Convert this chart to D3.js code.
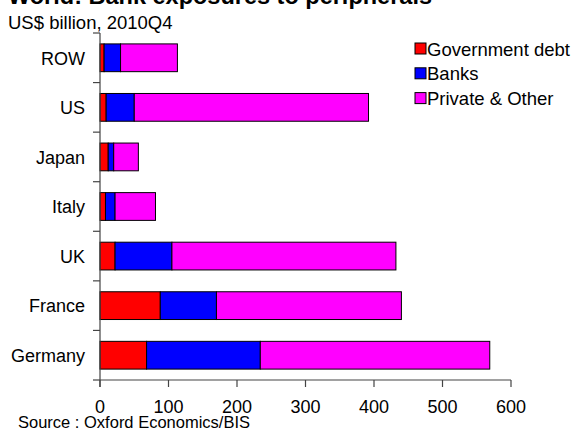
<!DOCTYPE html>
<html>
<head>
<meta charset="utf-8">
<script src="https://cdn.jsdelivr.net/npm/d3@7"></script>
<style>
    body { margin: 0; background: #fff; }
    text { font-family: "Liberation Sans", Arial, sans-serif; fill: #000; }
</style>
</head>
<body>
<svg width="579" height="430"></svg>
<script>
// Data (US$ billion, 2010Q4)
let countries = ['ROW', 'US', 'Japan', 'Italy', 'UK', 'France', 'Germany']
let government_debt = [6, 9, 12, 8, 22, 88, 68]
let banks = [24, 41, 8, 14, 83, 82, 166]
let private_other = [83, 342, 36, 59, 327, 270, 335]
let series_names = ['Government debt', 'Banks', 'Private & Other']
let series_colors = ['#ff0000', '#0000ff', '#ff00ff']
let x_ticks = [0, 100, 200, 300, 400, 500, 600]

let rows = countries.map((c, i) => ({
    country: c,
    'Government debt': government_debt[i],
    'Banks': banks[i],
    'Private & Other': private_other[i]
}))

let stack = d3.stack().keys(series_names)(rows)

let svg = d3.select('svg')

let scale = {
    x: d3.scaleLinear().domain([0, 600]).range([100, 511]),
    y: d3.scaleBand().domain(countries).range([33, 380]).paddingInner(0.44).paddingOuter(0.22)
}

// Title (cut off at top in the original)
svg.append('text')
    .attr('x', 8)
    .attr('y', 3.5)
    .style('font-size', '23.5px')
    .style('font-weight', 'bold')
    .text('World: Bank exposures to peripherals')

svg.append('text')
    .attr('x', 8)
    .attr('y', 29)
    .style('font-size', '18.5px')
    .text('US$ billion, 2010Q4')

// Bars
svg.append('g')
    .selectAll('g')
    .data(stack)
    .join('g')
    .attr('fill', (d, i) => series_colors[i])
    .selectAll('rect')
    .data(d => d)
    .join('rect')
    .attr('x', d => scale.x(d[0]))
    .attr('y', d => scale.y(d.data.country))
    .attr('width', d => scale.x(d[1]) - scale.x(d[0]))
    .attr('height', scale.y.bandwidth())
    .attr('stroke', '#000')
    .attr('stroke-width', 1)

// Y axis: ticks between categories
let step = scale.y.step()
let y_top = scale.y.range()[0]
let y_bottom = scale.y.range()[1]
let yAxis = svg.append('g').attr('stroke', '#444').attr('stroke-width', 1.2)
yAxis.append('line')
    .attr('x1', scale.x(0)).attr('x2', scale.x(0))
    .attr('y1', y_top).attr('y2', y_bottom + 7)
yAxis.selectAll('line.tick')
    .data(d3.range(countries.length + 1))
    .join('line')
    .attr('class', 'tick')
    .attr('x1', scale.x(0) - 7).attr('x2', scale.x(0))
    .attr('y1', i => y_top + i * step).attr('y2', i => y_top + i * step)

svg.append('g')
    .selectAll('text')
    .data(countries)
    .join('text')
    .attr('x', 85)
    .attr('y', d => scale.y(d) + scale.y.bandwidth() / 2)
    .attr('dy', '0.38em')
    .attr('text-anchor', 'end')
    .style('font-size', '18px')
    .text(d => d)

// X axis
let xAxis = svg.append('g').attr('stroke', '#444').attr('stroke-width', 1.2)
xAxis.append('line')
    .attr('x1', scale.x(0)).attr('x2', scale.x(600))
    .attr('y1', y_bottom).attr('y2', y_bottom)
xAxis.selectAll('line.tick')
    .data(x_ticks)
    .join('line')
    .attr('class', 'tick')
    .attr('x1', d => scale.x(d)).attr('x2', d => scale.x(d))
    .attr('y1', y_bottom).attr('y2', y_bottom + 7)

svg.append('g')
    .selectAll('text')
    .data(x_ticks)
    .join('text')
    .attr('x', d => scale.x(d))
    .attr('y', 413)
    .attr('text-anchor', 'middle')
    .style('font-size', '18px')
    .text(d => d)

svg.append('text')
    .attr('x', 18)
    .attr('y', 427.5)
    .style('font-size', '16.5px')
    .text('Source : Oxford Economics/BIS')

// Legend
let legend = svg.append('g')
    .selectAll('g')
    .data(series_names)
    .join('g')
    .attr('transform', (d, i) => `translate(415, ${43 + i * 24.8})`)

legend.append('rect')
    .attr('width', 11)
    .attr('height', 11)
    .attr('fill', (d, i) => series_colors[i])
    .attr('stroke', '#000')

legend.append('text')
    .attr('x', 12)
    .attr('y', 12.5)
    .style('font-size', '18.5px')
    .text(d => d)
</script>
</body>
</html>
